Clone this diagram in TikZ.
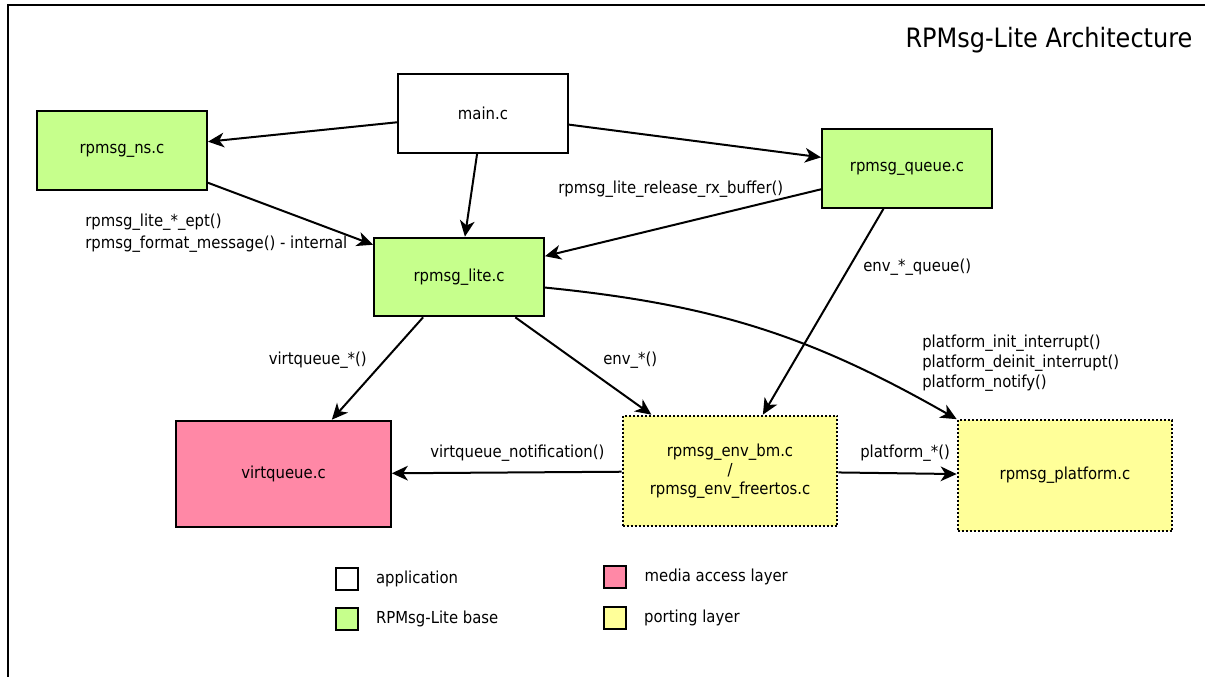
\documentclass[tikz,border=0pt]{standalone}
\usepackage{fontspec}
\setmainfont{DejaVu Sans Condensed}
\usetikzlibrary{arrows.meta,positioning}
\definecolor{basegreen}{RGB}{198,255,140}
\definecolor{mediapink}{RGB}{255,136,166}
\definecolor{portyellow}{RGB}{255,255,153}
\tikzset{
    block/.style={draw, line width=1.5pt, minimum width=127.5pt, minimum height=59pt, align=center, font=\fontsize{12.4}{14}\selectfont},
    appbox/.style={block, fill=white},
    basebox/.style={block, fill=basegreen},
    mediabox/.style={block, fill=mediapink, minimum width=161pt, minimum height=80pt},
    portbox/.style={block, fill=portyellow, minimum width=161pt, minimum height=83pt, dash pattern=on 1.5pt off 1.5pt},
    call/.style={font=\fontsize{12.4}{15}\selectfont, align=left, inner sep=0pt},
    key/.style={draw, line width=1.5pt, minimum size=16.5pt, inner sep=0pt},
    flow/.style={line width=1.5pt, -{Stealth[length=12pt, width=11pt, inset=3.5pt]}}
}
\begin{document}
\begin{tikzpicture}[x=0.75pt, y=-0.75pt]
    \useasboundingbox (0,0) rectangle (1205,677);
    \draw[line width=2pt] (8,677) -- (8,5) -- (1205,5);
    \node[anchor=east, font=\fontsize{20}{24}\selectfont] (title) at (1197,40) {RPMsg-Lite Architecture};
    \node[appbox] (main) at (483,113.5) {main.c};
    \node[basebox] (ns) at (122,150.5) {rpmsg\_ns.c};
    \node[basebox] (queue) at (907,168.5) {rpmsg\_queue.c};
    \node[basebox] (lite) at (459,277) {rpmsg\_lite.c};
    \node[mediabox] (virtq) at (283.5,474) {virtqueue.c};
    \node[portbox] (env) at (730,471) {rpmsg\_env\_bm.c\\/\\rpmsg\_env\_freertos.c};
    \node[portbox] (platform) at (1065,475.5) {rpmsg\_platform.c};
    \node[call, anchor=west] (eptcalls) at (85,233) {rpmsg\_lite\_*\_ept()\\[1.5pt]rpmsg\_format\_message() - internal};
    \node[call, anchor=west] (rxcall) at (558,189) {rpmsg\_lite\_release\_rx\_buffer()};
    \node[call, anchor=west] (queuecall) at (863,267) {env\_*\_queue()};
    \node[call, anchor=east] (vqcall) at (367,360) {virtqueue\_*()};
    \node[call, anchor=west] (envcall) at (603,360) {env\_*()};
    \node[call, anchor=west] (platcalls) at (922,363) {platform\_init\_interrupt()\\platform\_deinit\_interrupt()\\platform\_notify()};
    \node[call, anchor=west] (notifycall) at (430,453) {virtqueue\_notification()};
    \node[call, anchor=west] (platcall) at (860,453) {platform\_*()};
    \draw[flow] (main) to (ns);
    \draw[flow] (main) to (queue);
    \draw[flow] (main) to (lite);
    \draw[flow] (ns) to (lite);
    \draw[flow] (queue) to (lite);
    \draw[flow] (queue) to (env);
    \draw[flow] (lite) to (virtq);
    \draw[flow] (lite) to (env);
    \draw[flow] (lite.-7) to[bend left=12] (platform.north west);
    \draw[flow] (env) to (virtq);
    \draw[flow] (env) to (platform);
    \node[key, fill=white] (appkey) at (346.5,579) {};
    \node[key, fill=basegreen] (basekey) at (346.5,619) {};
    \node[key, fill=mediapink] (mediakey) at (615,577) {};
    \node[key, fill=portyellow] (portkey) at (614.5,618) {};
    \node[call, right=13pt of appkey] (apptext) {application};
    \node[call, right=13pt of basekey] (basetext) {RPMsg-Lite base};
    \node[call, right=13pt of mediakey] (mediatext) {media access layer};
    \node[call, right=13pt of portkey] (porttext) {porting layer};
\end{tikzpicture}
\end{document}
